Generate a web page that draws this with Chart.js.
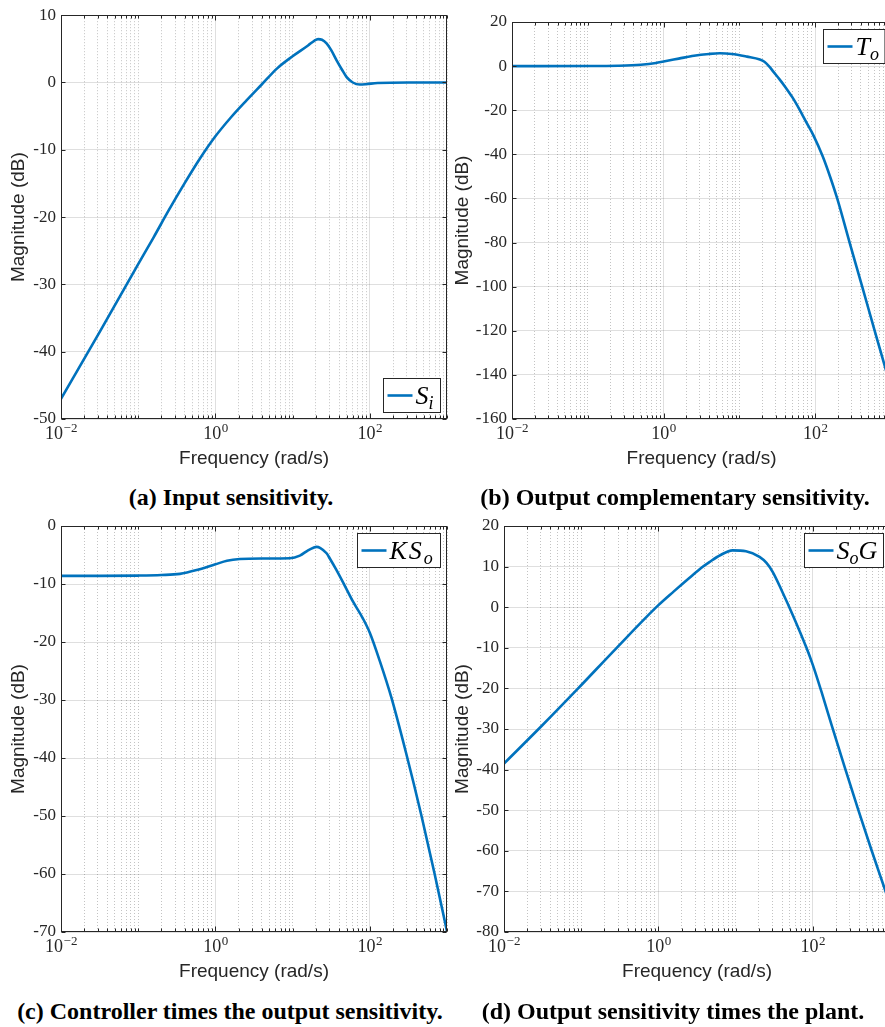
<!DOCTYPE html>
<html>
<head>
<meta charset="utf-8">
<script src="https://cdn.jsdelivr.net/npm/chart.js@4.4.1/dist/chart.umd.min.js"></script>
<style>
  html, body { margin: 0; padding: 0; background: #fff; }
  body { width: 885px; height: 1027px; position: relative; overflow: hidden; }
  .panel { position: absolute; }
  .panel canvas { display: block; }
  .cap {
    position: absolute;
    font: bold 24px "Liberation Serif", "Times New Roman", serif;
    line-height: 24px;
    color: #000;
    white-space: nowrap;
    transform: translateX(-50%);
  }
</style>
</head>
<body>
<div class="panel" style="left:0;top:0"><canvas id="chartSi" width="450" height="470"></canvas></div>
<div class="panel" style="left:440px;top:0"><canvas id="chartTo" width="455" height="470"></canvas></div>
<div class="panel" style="left:0;top:510px"><canvas id="chartKSo" width="450" height="473"></canvas></div>
<div class="panel" style="left:440px;top:510px"><canvas id="chartSoG" width="455" height="473"></canvas></div>

<div class="cap" style="left:231px;top:485px">(a) Input sensitivity.</div>
<div class="cap" style="left:675px;top:485px">(b) Output complementary sensitivity.</div>
<div class="cap" style="left:230px;top:999px">(c) Controller times the output sensitivity.</div>
<div class="cap" style="left:673px;top:999px">(d) Output sensitivity times the plant.</div>

<script>
// Frequencies are given as log10(rad/s); magnitudes in dB.

// (a) Input sensitivity S_i
const siLogW = [-2, -1.5, -1.0, -0.8, -0.6, -0.4, -0.2, 0, 0.2, 0.4, 0.6, 0.8, 1.0, 1.2, 1.28, 1.33, 1.38, 1.44, 1.5, 1.57, 1.64, 1.7, 1.78, 1.87, 1.95, 2.1, 2.5, 3];
const siMag  = [-47, -37.1, -27.0, -23.0, -18.9, -15.0, -11.3, -8.0, -5.2, -2.7, -0.3, 2.1, 3.9, 5.5, 6.2, 6.45, 6.35, 5.8, 4.8, 3.3, 1.9, 0.8, 0.0, -0.3, -0.25, -0.08, 0, 0];

// (b) Output complementary sensitivity T_o
const toLogW = [-2, -1, -0.6, -0.3, -0.1, 0, 0.2, 0.4, 0.6, 0.74, 0.9, 1.1, 1.27, 1.33, 1.395, 1.45, 1.53, 1.6, 1.7, 1.79, 1.88, 1.978, 2.1, 2.2, 2.29, 2.454, 2.62, 2.785, 2.908, 3];
const toMag  = [0, 0.02, 0.15, 0.6, 1.4, 2.1, 3.4, 4.7, 5.5, 5.8, 5.5, 4.3, 3.0, 2.0, -0.2, -2.6, -6.0, -9.2, -14.2, -19.5, -25.3, -31.5, -41.0, -50.5, -60, -80, -100, -120, -134.8, -146];

// (c) Controller times output sensitivity K S_o
const ksLogW = [-2, -1.5, -1, -0.7, -0.46, -0.243, 0, 0.15, 0.317, 0.62, 0.965, 1.094, 1.2, 1.27, 1.31, 1.36, 1.44, 1.482, 1.56, 1.68, 1.785, 1.913, 2.0, 2.13, 2.28, 2.475, 2.67, 2.84, 3];
const ksMag  = [-8.6, -8.6, -8.55, -8.45, -8.25, -7.6, -6.6, -6.0, -5.7, -5.6, -5.55, -5.1, -4.2, -3.75, -3.6, -3.8, -4.7, -5.6, -7.4, -10.4, -13.1, -16.0, -18.4, -23.3, -29.6, -39.4, -50, -60, -69.9];

// (d) Output sensitivity times plant S_o G
const sgLogW = [-2, -1.51, -1.04, -0.54, 0, 0.2, 0.4, 0.57, 0.66, 0.8, 0.96, 1.135, 1.31, 1.4, 1.48, 1.6, 1.74, 1.918, 2.0, 2.12, 2.24, 2.41, 2.587, 2.76, 2.932, 3];
const sgMag  = [-38.5, -29.2, -20, -10, 0.5, 3.9, 7.2, 9.9, 11.1, 12.8, 14.0, 13.8, 12.4, 10.9, 8.7, 4.0, -1.9, -10, -14.2, -21.3, -28.8, -39.2, -49.8, -59.8, -69.4, -73.2];

// Axis ranges and tick labels
const xRange = [0.01, 1000];
const xLabelExponents = [-2, 0, 2];
const siRange = [-50, 10],   siStep = 10;
const toRange = [-160, 20],  toStep = 20;
const ksRange = [-70, 0],    ksStep = 10;
const sgRange = [-80, 20],   sgStep = 10;

// Legend entries: [text, isSubscript]
const siLegend = [['S', false], ['i', true]];
const toLegend = [['T', false], ['o', true]];
const ksLegend = [['K', false], ['S', false], ['o', true]];
const sgLegend = [['S', false], ['o', true], ['G', false]];

const LINE_COLOR = '#0072BD';
const AXIS_COLOR = '#262626';
const MAJOR_GRID = 'rgba(38,38,38,0.15)';
const MINOR_GRID = 'rgba(38,38,38,0.28)';
const SERIF = '"Liberation Serif", "DejaVu Serif", "Times New Roman", serif';
const SANS = '"Liberation Sans", Arial, Helvetica, sans-serif';

// every 1..9 x 10^n between 1e-2 and 1e3
const X_TICKS = [];
for (let n = -2; n <= 2; n++) for (let k = 1; k <= 9; k++) X_TICKS.push(Number(k + 'e' + n));
X_TICKS.push(1000);

function isMajorX(v) {
  const e = Math.log10(v), r = Math.round(e);
  return Math.abs(e - r) < 1e-6 && xLabelExponents.includes(r);
}

function toPoints(logW, mag) {
  return logW.map((e, i) => ({ x: Math.pow(10, e), y: mag[i] }));
}

// Box, inward ticks, decade labels with exponents, and the legend
const axesDecor = {
  id: 'axesDecor',
  afterDatasetsDraw(chart, args, opts) {
    const { ctx, chartArea: a, scales: { x, y } } = chart;
    const L = Math.round(a.left) + 0.5, R = Math.round(a.right) - 0.5;
    const T = Math.round(a.top) + 0.5, B = Math.round(a.bottom) - 0.5;
    ctx.save();
    ctx.strokeStyle = AXIS_COLOR;
    ctx.lineWidth = 1;
    ctx.beginPath();
    // x ticks (bottom and top)
    X_TICKS.forEach(v => {
      const px = Math.round(x.getPixelForValue(v)) + 0.5;
      const len = isMajorX(v) ? 5 : 3;
      ctx.moveTo(px, B); ctx.lineTo(px, B - len);
      ctx.moveTo(px, T); ctx.lineTo(px, T + len);
    });
    // y ticks (left and right)
    y.ticks.forEach(t => {
      const py = Math.round(y.getPixelForValue(t.value)) + 0.5;
      ctx.moveTo(L, py); ctx.lineTo(L + 4, py);
      ctx.moveTo(R, py); ctx.lineTo(R - 4, py);
    });
    ctx.stroke();
    ctx.strokeRect(L, T, R - L, B - T);

    // decade labels 10^n
    ctx.fillStyle = AXIS_COLOR;
    ctx.textBaseline = 'alphabetic';
    ctx.textAlign = 'left';
    xLabelExponents.forEach(n => {
      const px = x.getPixelForValue(Math.pow(10, n));
      const base = '10';
      const exp = n < 0 ? '\u2212' + Math.abs(n) : String(n);
      ctx.font = '18px ' + SERIF;
      const wb = ctx.measureText(base).width;
      ctx.font = '13px ' + SERIF;
      const we = ctx.measureText(exp).width;
      const x0 = px - (wb + we) / 2;
      ctx.font = '18px ' + SERIF;
      ctx.fillText(base, x0, a.bottom + 20);
      ctx.font = '13px ' + SERIF;
      ctx.fillText(exp, x0 + wb + 0.5, a.bottom + 13);
    });

    // legend
    const lg = opts.legend;
    if (lg) {
      const mainFont = 'italic 26px ' + SERIF;
      const subFont = 'italic 18px ' + SERIF;
      let tw = 0;
      lg.parts.forEach(([s, sub], i) => {
        ctx.font = sub ? subFont : mainFont;
        tw += ctx.measureText(s).width + (i > 0 ? lg.gap : 0);
      });
      const h = 34;
      const w = Math.max(lg.minWidth || 0, 33 + tw + 5);
      const bx = Math.round(a.right - 7 - w) + 0.5;
      const by = Math.round(lg.corner === 'se' ? a.bottom - 7 - h : a.top + 7) + 0.5;
      ctx.fillStyle = '#fff';
      ctx.fillRect(bx, by, w, h);
      ctx.strokeStyle = AXIS_COLOR;
      ctx.lineWidth = 1;
      ctx.strokeRect(bx, by, w, h);
      ctx.strokeStyle = LINE_COLOR;
      ctx.lineWidth = 2.6;
      ctx.beginPath();
      ctx.moveTo(bx + 4, by + h / 2);
      ctx.lineTo(bx + 29, by + h / 2);
      ctx.stroke();
      ctx.fillStyle = '#000';
      let tx = bx + 32;
      lg.parts.forEach(([s, sub], i) => {
        if (i > 0) tx += lg.gap;
        ctx.font = sub ? subFont : mainFont;
        ctx.fillText(s, tx, by + (sub ? 30 : 25.5));
        tx += ctx.measureText(s).width;
      });
    }
    ctx.restore();
  }
};

function makePanel(id, logW, mag, range, step, p) {
  return new Chart(document.getElementById(id), {
    type: 'line',
    data: {
      datasets: [{
        data: toPoints(logW, mag),
        borderColor: LINE_COLOR,
        borderWidth: 2.6,
        pointRadius: 0,
        fill: false,
        cubicInterpolationMode: 'monotone'
      }]
    },
    options: {
      responsive: false,
      animation: false,
      devicePixelRatio: 1,
      layout: { padding: { top: p.top, right: p.right, left: 0, bottom: 0 } },
      plugins: {
        legend: { display: false },
        tooltip: { enabled: false },
        axesDecor: { legend: p.legend }
      },
      scales: {
        x: {
          type: 'logarithmic',
          min: xRange[0],
          max: xRange[1],
          afterBuildTicks: s => { s.ticks = X_TICKS.map(v => ({ value: v })); },
          afterFit: s => { s.height = p.xHeight; },
          ticks: { display: false },
          grid: {
            color: c => (c.tick && isMajorX(c.tick.value)) ? MAJOR_GRID : MINOR_GRID,
            lineWidth: 1,
            drawTicks: false
          },
          border: {
            display: false,
            dash: c => (c.tick && !isMajorX(c.tick.value)) ? [1, 2] : []
          },
          title: {
            display: true,
            text: 'Frequency (rad/s)',
            color: AXIS_COLOR,
            font: { family: SANS, size: 19 },
            padding: { top: 0, bottom: 0 }
          }
        },
        y: {
          type: 'linear',
          min: range[0],
          max: range[1],
          afterFit: s => { s.width = p.yWidth; },
          ticks: {
            stepSize: step,
            color: AXIS_COLOR,
            padding: 5,
            font: { family: SERIF, size: 17 },
            callback: v => String(v)
          },
          grid: { color: MAJOR_GRID, lineWidth: 1, drawTicks: false },
          border: { display: false },
          title: {
            display: true,
            text: 'Magnitude (dB)',
            color: AXIS_COLOR,
            font: { family: SANS, size: 19 },
            padding: { top: p.titlePad, bottom: 0 }
          }
        }
      }
    },
    plugins: [axesDecor]
  });
}

makePanel('chartSi', siLogW, siMag, siRange, siStep,
  { top: 13, right: 3, xHeight: 51, yWidth: 61, titlePad: 7.5,
    legend: { parts: siLegend, corner: 'se', gap: 0, minWidth: 57 } });
makePanel('chartTo', toLogW, toMag, toRange, toStep,
  { top: 22, right: 4, xHeight: 51, yWidth: 72, titlePad: 11.5,
    legend: { parts: toLegend, corner: 'ne', gap: 0, minWidth: 58 } });
makePanel('chartKSo', ksLogW, ksMag, ksRange, ksStep,
  { top: 16, right: 3, xHeight: 51, yWidth: 61, titlePad: 7.5,
    legend: { parts: ksLegend, corner: 'ne', gap: 2, minWidth: 83 } });
makePanel('chartSoG', sgLogW, sgMag, sgRange, sgStep,
  { top: 16, right: 5, xHeight: 51, yWidth: 64, titlePad: 11.5,
    legend: { parts: sgLegend, corner: 'ne', gap: 0, minWidth: 79 } });
</script>
</body>
</html>
